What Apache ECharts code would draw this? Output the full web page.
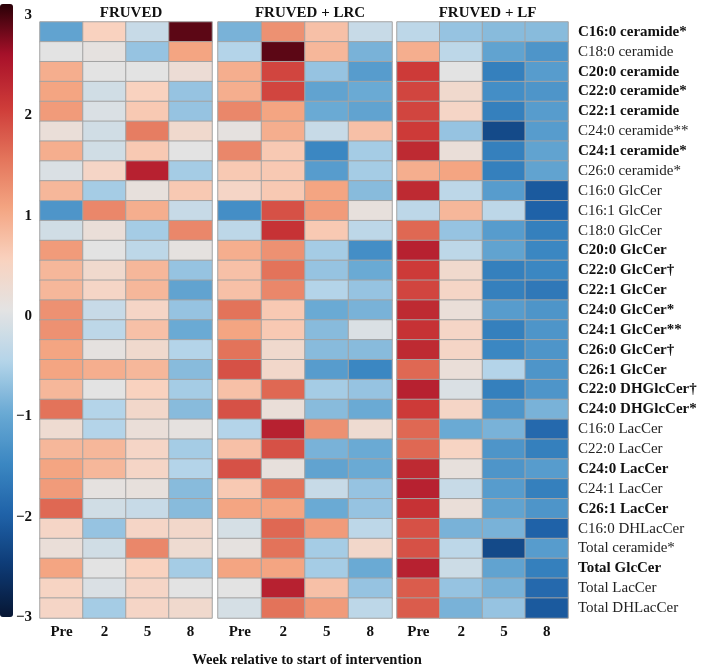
<!DOCTYPE html>
<html>
<head>
<meta charset="utf-8">
<script src="https://cdn.jsdelivr.net/npm/echarts@6/dist/echarts.min.js"></script>
<style>
  html, body { margin: 0; padding: 0; background: #fff; }
  #chart { width: 709px; height: 666px; }
</style>
</head>
<body>
<div id="chart"></div>
<script>
// rows of the heatmap, top to bottom
var rowNames = [
    'C16:0 ceramide*', 'C18:0 ceramide', 'C20:0 ceramide', 'C22:0 ceramide*', 'C22:1 ceramide',
    'C24:0 ceramide**', 'C24:1 ceramide*', 'C26:0 ceramide*', 'C16:0 GlcCer', 'C16:1 GlcCer',
    'C18:0 GlcCer', 'C20:0 GlcCer', 'C22:0 GlcCer\u2020', 'C22:1 GlcCer', 'C24:0 GlcCer*',
    'C24:1 GlcCer**', 'C26:0 GlcCer\u2020', 'C26:1 GlcCer', 'C22:0 DHGlcCer\u2020', 'C24:0 DHGlcCer*',
    'C16:0 LacCer', 'C22:0 LacCer', 'C24:0 LacCer', 'C24:1 LacCer', 'C26:1 LacCer',
    'C16:0 DHLacCer', 'Total ceramide*', 'Total GlcCer', 'Total LacCer', 'Total DHLacCer'
];
// labels printed in bold
var boldRows = [
    'C16:0 ceramide*', 'C20:0 ceramide', 'C22:0 ceramide*', 'C22:1 ceramide', 'C24:1 ceramide*',
    'C20:0 GlcCer', 'C22:0 GlcCer\u2020', 'C22:1 GlcCer', 'C24:0 GlcCer*', 'C24:1 GlcCer**',
    'C26:0 GlcCer\u2020', 'C26:1 GlcCer', 'C22:0 DHGlcCer\u2020', 'C24:0 DHGlcCer*',
    'C24:0 LacCer', 'C26:1 LacCer', 'Total GlcCer'
];
var weeks = ['Pre', '2', '5', '8'];
var panelNames = ['FRUVED', 'FRUVED + LRC', 'FRUVED + LF'];
var scaleTicks = [-3, 3];

// z-scores, one row per lipid, columns Pre / 2 / 5 / 8
var fruved = [
    [-1.1, 0.5, -0.3, 2.8], [0.0, 0.05, -0.7, 1.0], [0.9, 0.0, 0.0, 0.2], [1.0, -0.2, 0.5, -0.7], [1.1, -0.1, 0.6, -0.7],
    [0.15, -0.2, 1.4, 0.3], [0.9, -0.2, 0.6, 0.0], [-0.1, 0.4, 2.3, -0.6], [0.8, -0.6, 0.1, 0.6], [-1.3, 1.3, 0.9, -0.3],
    [-0.2, 0.15, -0.6, 1.3], [1.1, 0.0, -0.4, 0.05], [0.8, 0.3, 0.8, -0.7], [0.8, 0.4, 0.8, -1.1], [1.2, -0.3, 0.4, -0.7],
    [1.2, -0.4, 0.7, -1.0], [1.0, 0.05, 0.3, -0.5], [1.0, 0.9, 0.8, -0.8], [0.8, 0.0, 0.5, -0.6], [1.5, -0.5, 0.35, -0.8],
    [0.25, -0.5, 0.15, 0.05], [0.8, 0.8, 0.4, -0.6], [1.0, 0.8, 0.4, -0.5], [1.1, 0.05, 0.1, -0.8], [1.6, -0.2, -0.3, -0.8],
    [0.4, -0.7, 0.4, 0.35], [0.15, -0.2, 1.3, 0.25], [1.0, 0.0, 0.5, -0.6], [0.45, -0.1, 0.4, 0.0], [0.4, -0.6, 0.4, 0.3]
];
var fruvedLrc = [
    [-0.9, 1.2, 0.7, -0.3], [-0.5, 2.8, 0.8, -0.9], [0.9, 1.9, -0.7, -1.2], [0.9, 1.9, -1.1, -1.0], [1.3, 1.0, -1.0, -1.1],
    [0.05, 0.9, -0.3, 0.7], [1.3, 0.6, -1.5, -0.6], [0.6, 0.6, -1.2, -0.6], [0.4, 0.6, 1.0, -0.8], [-1.4, 1.8, 1.1, 0.1],
    [-0.4, 2.1, 0.6, -0.4], [0.9, 1.2, -0.6, -1.4], [0.7, 1.5, -0.7, -1.0], [0.7, 1.3, -0.5, -0.7], [1.5, 0.6, -1.0, -0.9],
    [1.0, 0.6, -0.8, -0.1], [1.5, 0.3, -0.8, -0.8], [1.8, 0.35, -1.2, -1.5], [0.7, 1.6, -0.6, -0.7], [1.8, 0.15, -0.8, -1.0],
    [-0.5, 2.3, 1.2, 0.25], [0.7, 1.8, -0.9, -1.0], [1.8, 0.1, -1.1, -1.0], [0.6, 1.5, -0.3, -0.7], [1.0, 1.0, -1.0, -0.7],
    [-0.15, 1.6, 1.1, -0.4], [0.05, 1.5, -0.6, 0.35], [1.0, 1.0, -0.6, -1.0], [0.0, 2.3, 0.7, -0.7], [-0.15, 1.5, 1.1, -0.4]
];
var fruvedLf = [
    [-0.4, -0.7, -0.8, -0.8], [0.9, -0.4, -1.1, -1.3], [2.0, 0.0, -1.6, -1.2], [1.9, 0.3, -1.4, -1.3], [1.9, 0.4, -1.6, -1.2],
    [2.0, -0.7, -2.3, -1.2], [2.2, 0.15, -1.6, -1.1], [0.9, 1.0, -1.6, -1.1], [2.2, -0.4, -1.2, -2.1], [-0.4, 0.8, -0.4, -2.0],
    [1.6, -0.7, -1.2, -1.6], [2.3, -0.4, -1.1, -1.5], [2.0, 0.3, -1.6, -1.5], [1.9, 0.4, -1.6, -1.7], [2.2, 0.15, -1.2, -1.3],
    [2.1, 0.4, -1.6, -1.3], [2.2, 0.4, -1.5, -1.3], [1.6, 0.15, -0.5, -1.3], [2.3, -0.1, -1.6, -1.3], [2.0, 0.4, -1.3, -0.9],
    [1.6, -1.0, -0.9, -1.9], [1.6, 0.45, -1.3, -1.6], [2.2, 0.1, -1.3, -1.2], [2.3, -0.3, -1.2, -1.6], [2.1, 0.15, -1.1, -1.3],
    [1.8, -0.9, -0.9, -2.0], [1.8, -0.4, -2.3, -1.2], [2.3, -0.25, -1.1, -1.6], [1.7, -0.7, -0.9, -1.9], [1.7, -0.9, -0.7, -2.1]
];

var chart = echarts.init(document.getElementById('chart'));
var serif = '"Liberation Serif", "DejaVu Serif", serif';

function toCells(values) {
    var out = [];
    values.forEach(function (row, r) {
        row.forEach(function (v, c) { out.push([c, r, v]); });
    });
    return out;
}

var panels = [fruved, fruvedLrc, fruvedLf];
var grids = [
    { left: 40, top: 22, width: 172, height: 596 },
    { left: 218, top: 22, width: 174, height: 596 },
    { left: 397, top: 22, width: 171, height: 596 },
    // colour bar tick labels
    { left: 34, top: 15, width: 1, height: 602 }
];

var xAxes = [], yAxes = [], series = [], titles = [];
panels.forEach(function (vals, i) {
    xAxes.push({
        type: 'category', gridIndex: i, data: weeks, position: 'bottom',
        axisLine: { show: false }, axisTick: { show: false },
        axisLabel: { margin: 7, fontFamily: serif, fontWeight: 'bold', fontSize: 15, color: '#111' }
    });
    yAxes.push({
        type: 'category', gridIndex: i, data: rowNames, inverse: true,
        position: 'right',
        axisLine: { show: false }, axisTick: { show: false },
        axisLabel: {
            show: i === 2, margin: 10,
            formatter: function (v) {
                return boldRows.indexOf(v) >= 0 ? '{b|' + v + '}' : '{n|' + v + '}';
            },
            rich: {
                b: { fontFamily: serif, fontWeight: 'bold', fontSize: 15, color: '#111' },
                n: { fontFamily: serif, fontSize: 15, color: '#222' }
            }
        }
    });
    series.push({
        type: 'heatmap', xAxisIndex: i, yAxisIndex: i,
        data: toCells(vals),
        itemStyle: { borderColor: '#a3a3a3', borderWidth: 1 },
        emphasis: { disabled: true }
    });
    var g = grids[i];
    titles.push({
        text: panelNames[i], left: g.left + g.width / 2, top: 1, textAlign: 'center',
        textStyle: { fontFamily: serif, fontWeight: 'bold', fontSize: 15, color: '#111' }
    });
});

// axis carrying the colour bar ticks
xAxes.push({ type: 'value', gridIndex: 3, show: false });
yAxes.push({
    type: 'value', gridIndex: 3, min: scaleTicks[0], max: scaleTicks[1], interval: 1,
    position: 'left',
    axisLine: { show: false }, axisTick: { show: false }, splitLine: { show: false },
    axisLabel: {
        margin: 2, fontFamily: serif, fontWeight: 'bold', fontSize: 15, color: '#111',
        formatter: function (v) { return v < 0 ? '\u2212' + Math.abs(v) : String(v); }
    }
});

titles.push({
    text: 'Week relative to start of intervention', left: 302, top: 648, textAlign: 'center',
    textStyle: { fontFamily: serif, fontWeight: 'bold', fontSize: 14.6, color: '#111' }
});

var option = {
    backgroundColor: '#fff',
    animation: false,
    title: titles,
    grid: grids,
    xAxis: xAxes,
    yAxis: yAxes,
    visualMap: {
        type: 'continuous', min: scaleTicks[0], max: scaleTicks[1],
        seriesIndex: [0, 1, 2], calculable: false, realtime: false,
        left: 0, top: 4, itemWidth: 13, itemHeight: 613, padding: 0,
        text: null, showLabel: false,
        inRange: {
            color: ['#071633', '#0d3a75', '#1f62a8', '#3b87c2', '#6aaad4', '#b4d4e9', '#e3e3e3',
                    '#f9d2bf', '#f4a582', '#e3735a', '#cd3a38', '#a8112a', '#2a0007']
        }
    },
    series: series
};

chart.setOption(option);
</script>
</body>
</html>
